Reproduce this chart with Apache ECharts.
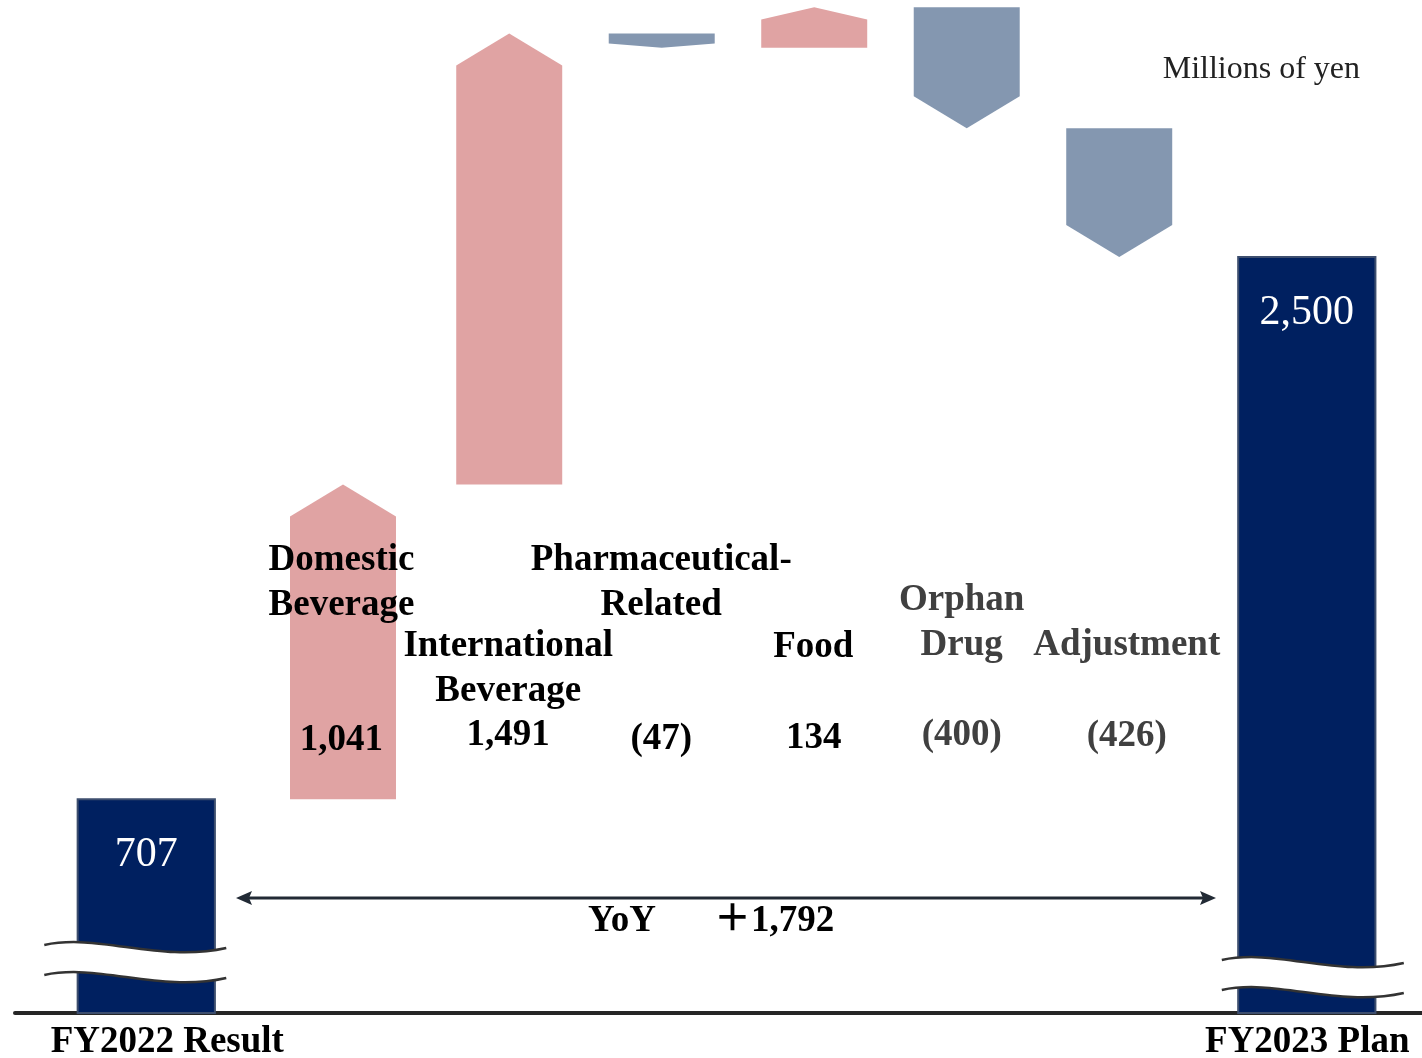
<!DOCTYPE html>
<html>
<head>
<meta charset="utf-8">
<title>Operating profit bridge FY2022 → FY2023</title>
<script src="https://cdn.jsdelivr.net/npm/echarts@6/dist/echarts.min.js"></script>
<style>
  html, body { margin: 0; padding: 0; background: #ffffff; }
  #chart { width: 1422px; height: 1058px; }
</style>
</head>
<body>
<div id="chart"></div>
<script>
// ---- data -------------------------------------------------------------
const categories = [
  'FY2022 Result',
  'Domestic\nBeverage',
  'International\nBeverage',
  'Pharmaceutical-\nRelated',
  'Food',
  'Orphan\nDrug',
  'Adjustment',
  'FY2023 Plan'
];
const startValue = 707;                                 // FY2022 result
const changes = [1041, 1491, -47, 134, -400, -426];     // segment contributions
const endValue = 2500;                                  // FY2023 plan
const yoyChange = 1792;
const unitText = 'Millions of yen';

// ---- style & layout ---------------------------------------------------
const FONT = '"Liberation Serif", "Times New Roman", "Noto Sans CJK JP", serif';
const NAVY = '#002060';
const NAVY_EDGE = '#3D4E6E';
const UP = '#E0A3A3';
const DOWN = '#8497B0';
const BASE_SHIFT = 0.25;            // alphabetic baseline below the "middle" line, in em
const LABEL_SIZE = 37;
const LINE_H = 45;

// horizontal slots (in units of the bar pitch) and bar widths
const slotPos   = [-1.29, 0, 1.09, 2.09, 3.09, 4.09, 5.09, 6.32];
const slotWidth = [0.90, 0.695, 0.695, 0.695, 0.695, 0.695, 0.695, 0.90];
// label placement: horizontal nudge from bar centre, first baseline in px
const nameDx    = [21, -1.5, -1, -0.5, -1, -5, 7.5, 0.5];
const nameBase  = [1052, 570, 656, 570, 657, 610, 655, 1052];
const valueDx   = [0, -1.5, -1, -0.5, -0.5, -5, 7.5, 0];
const valueBase = [0, 750, 745, 749, 748, 745, 746, 0];
const textColor = ['#000', '#000', '#000', '#000', '#000', '#404040', '#404040', '#000'];
// axis-break marks on the two total bars: horizontal nudge, rise above baseline
const breakSpec = { 0: { dx: -11, lift: 68 }, 7: { dx: 6, lift: 53 } };

// ---- helpers ----------------------------------------------------------
function fmt(v) {
  const s = Math.abs(v).toLocaleString('en-US');
  return v < 0 ? '(' + s + ')' : s;
}
function textY(baseline, lines, size) {
  // y for a vertically-centred block whose first line sits on `baseline`
  return baseline + (lines - 1) * LINE_H / 2 - BASE_SHIFT * size;
}

// running totals -> [slot, from, to, kind, index]
const rows = [];
rows.push([slotPos[0], 0, startValue, 0, 0]);
let running = startValue;
changes.forEach(function (d, k) {
  rows.push([slotPos[k + 1], running, running + d, d >= 0 ? 1 : -1, k + 1]);
  running += d;
});
rows.push([slotPos[7], 0, endValue, 0, 7]);

function renderItem(params, api) {
  const i = api.value(4);
  const from = api.value(1), to = api.value(2), kind = api.value(3);
  const pA = api.coord([api.value(0), from]);
  const pB = api.coord([api.value(0), to]);
  const cx = pA[0];
  const w = api.size([slotWidth[i], 0])[0];
  const half = w / 2;
  const kids = [];

  if (kind === 0) {
    const top = pB[1], bottom = pA[1];
    kids.push({
      type: 'rect',
      shape: { x: cx - half, y: top, width: w, height: bottom - top },
      style: { fill: NAVY, stroke: NAVY_EDGE, lineWidth: 2 }
    });
    // axis-break band
    const b = breakSpec[i];
    const x0 = cx + b.dx - 91, y0 = bottom - b.lift;
    const curve = function (y) {
      return 'M' + x0 + ',' + y + ' C' + (x0 + 55) + ',' + (y - 12) + ' ' + (x0 + 115) + ',' + (y + 18) + ' ' + (x0 + 182) + ',' + (y + 3);
    };
    const band = curve(y0) +
      ' L' + (x0 + 182) + ',' + (y0 + 33) +
      ' C' + (x0 + 115) + ',' + (y0 + 48) + ' ' + (x0 + 55) + ',' + (y0 + 18) + ' ' + x0 + ',' + (y0 + 30) + ' Z';
    kids.push({ type: 'path', shape: { pathData: band }, style: { fill: '#ffffff', stroke: null } });
    kids.push({ type: 'path', shape: { pathData: curve(y0) }, style: { fill: null, stroke: '#333333', lineWidth: 2.5 } });
    kids.push({ type: 'path', shape: { pathData: curve(y0 + 30) }, style: { fill: null, stroke: '#333333', lineWidth: 2.5 } });
    // value inside the bar
    kids.push({
      type: 'text',
      x: cx + valueDx[i],
      y: textY(top + 66, 1, 42),
      style: {
        text: fmt(to), font: '42px ' + FONT, fill: '#ffffff',
        align: 'center', verticalAlign: 'middle', lineHeight: 42
      }
    });
  } else if (kind === 1) {
    const bottom = pA[1], tip = pB[1];
    const head = Math.min(32, 0.3 * (bottom - tip));
    kids.push({
      type: 'polygon',
      shape: { points: [[cx - half, bottom], [cx - half, tip + head], [cx, tip], [cx + half, tip + head], [cx + half, bottom]] },
      style: { fill: UP }
    });
  } else {
    const top = pA[1], tip = pB[1];
    const head = Math.min(32, 0.3 * (tip - top));
    kids.push({
      type: 'polygon',
      shape: { points: [[cx - half, top], [cx + half, top], [cx + half, tip - head], [cx, tip], [cx - half, tip - head]] },
      style: { fill: DOWN }
    });
  }

  // category name
  const name = categories[i];
  const nLines = name.split('\n').length;
  kids.push({
    type: 'text',
    x: cx + nameDx[i],
    y: textY(nameBase[i], nLines, LABEL_SIZE),
    style: {
      text: name, font: 'bold ' + LABEL_SIZE + 'px ' + FONT, fill: textColor[i],
      align: 'center', verticalAlign: 'middle', lineHeight: LINE_H
    }
  });
  // change value
  if (kind !== 0) {
    kids.push({
      type: 'text',
      x: cx + valueDx[i],
      y: textY(valueBase[i], 1, LABEL_SIZE),
      style: {
        text: fmt(to - from), font: 'bold ' + LABEL_SIZE + 'px ' + FONT, fill: textColor[i],
        align: 'center', verticalAlign: 'middle', lineHeight: LINE_H
      }
    });
  }
  return { type: 'group', children: kids };
}

const chart = echarts.init(document.getElementById('chart'), null, { renderer: 'canvas' });
const arrowY = 898;
chart.setOption({
  animation: false,
  backgroundColor: '#ffffff',
  grid: { left: 15, right: 0, top: 0, bottom: 45 },
  xAxis: {
    type: 'value',
    min: -2.1508, max: 7.0754,
    axisLine: { show: true, onZero: false, lineStyle: { color: '#262626', width: 4 } },
    axisTick: { show: false }, axisLabel: { show: false }, splitLine: { show: false }
  },
  yAxis: {
    type: 'value', min: 0, max: 3350, show: false, splitLine: { show: false }
  },
  series: [{
    type: 'custom',
    renderItem: renderItem,
    encode: { x: 0, y: [1, 2] },
    data: rows,
    clip: false,
    z: 3
  }],
  graphic: [
    {
      type: 'text', x: 1360, y: 78 - BASE_SHIFT * 32,
      style: { text: unitText, font: '32px ' + FONT, fill: '#222222', align: 'right', verticalAlign: 'middle' }
    },
    {
      type: 'line',
      shape: { x1: 248, y1: arrowY, x2: 1203, y2: arrowY },
      style: { stroke: '#222A35', lineWidth: 3 }
    },
    {
      type: 'polygon',
      shape: { points: [[236, arrowY], [252, arrowY - 7], [249, arrowY], [252, arrowY + 7]] },
      style: { fill: '#222A35' }
    },
    {
      type: 'polygon',
      shape: { points: [[1216, arrowY], [1200, arrowY - 7], [1203, arrowY], [1200, arrowY + 7]] },
      style: { fill: '#222A35' }
    },
    {
      type: 'text', x: 622, y: 931 - BASE_SHIFT * LABEL_SIZE,
      style: { text: 'YoY', font: 'bold ' + LABEL_SIZE + 'px ' + FONT, fill: '#000', align: 'center', verticalAlign: 'middle' }
    },
    {
      type: 'text', x: 714, y: 931 - BASE_SHIFT * LABEL_SIZE,
      style: { text: '＋' + yoyChange.toLocaleString('en-US'), font: 'bold ' + LABEL_SIZE + 'px ' + FONT, fill: '#000', align: 'left', verticalAlign: 'middle' }
    }
  ]
});
</script>
</body>
</html>
